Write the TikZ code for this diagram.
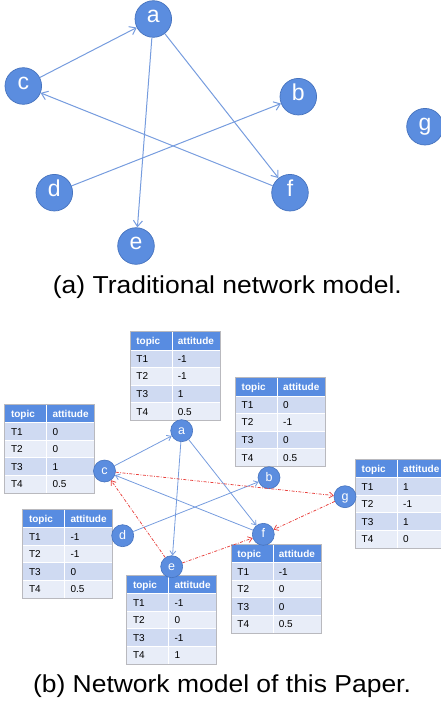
\documentclass[tikz,border=0pt]{standalone}
\usepackage{fontspec}
\setmainfont{Liberation Sans}
\usetikzlibrary{arrows.meta}
\definecolor{nodeblue}{RGB}{91,141,223}
\definecolor{nodeedge}{RGB}{70,115,190}
\definecolor{linkblue}{RGB}{118,156,222}
\definecolor{linkred}{RGB}{232,64,60}
\definecolor{hdrblue}{RGB}{88,140,225}
\definecolor{rowA}{RGB}{207,218,242}
\definecolor{rowB}{RGB}{232,237,248}
\definecolor{tabedge}{RGB}{185,185,190}
\tikzset{
 bignode/.style={circle, fill=nodeblue, draw=nodeedge, line width=0.7pt, minimum size=36.6pt, inner sep=0pt, text=white, text height=0.66em, text depth=0pt, font=\fontsize{23}{23}\selectfont},
 smallnode/.style={circle, fill=nodeblue, draw=nodeedge, line width=0.6pt, minimum size=22pt, inner sep=0pt, text=white, text height=0.66em, text depth=0pt, font=\fontsize{12.5}{12.5}\selectfont},
 biglink/.style={draw=linkblue, line width=1pt, -{Straight Barb[length=6pt,width=9pt]}},
 smalllink/.style={draw=linkblue, line width=0.8pt, -{Straight Barb[length=4pt,width=6pt]}},
 redlink/.style={draw=linkred, line width=0.75pt, dash pattern=on 3pt off 1.5pt on 0.8pt off 1.5pt, -{Straight Barb[length=4pt,width=6pt]}},
 hdrtxt/.style={anchor=base west, inner sep=0pt, text=white, font=\fontsize{10}{10}\selectfont\bfseries},
 celltxt/.style={anchor=base west, inner sep=0pt, font=\fontsize{10}{10}\selectfont},
 captxt/.style={anchor=base, inner sep=0pt, font=\fontsize{24.5}{24.5}\selectfont},
 gridline/.style={white, line width=0.8pt},
}
\newcommand\topictab[7]{%
\begin{scope}[shift={(#2,#3)}]
 \fill[tabedge] (-1,-1) rectangle (90,89);
 \fill[hdrblue] (0,0) rectangle (89,17.6);
 \fill[rowA] (0,17.6) rectangle (89,35.2);
 \fill[rowB] (0,35.2) rectangle (89,52.8);
 \fill[rowA] (0,52.8) rectangle (89,70.4);
 \fill[rowB] (0,70.4) rectangle (89,88);
 \draw[gridline] (41.5,0) -- (41.5,88);
 \foreach \yy in {17.6,35.2,52.8,70.4} \draw[gridline] (0,\yy) -- (89,\yy);
 \node[hdrtxt] (#1-h1) at (5.5,12.4) {topic};
 \node[hdrtxt] (#1-h2) at (47,12.4) {attitude};
 \node[celltxt] (#1-k1) at (5.5,30) {T1};
 \node[celltxt] (#1-v1) at (47,30) {#4};
 \node[celltxt] (#1-k2) at (5.5,47.6) {T2};
 \node[celltxt] (#1-v2) at (47,47.6) {#5};
 \node[celltxt] (#1-k3) at (5.5,65.2) {T3};
 \node[celltxt] (#1-v3) at (47,65.2) {#6};
 \node[celltxt] (#1-k4) at (5.5,82.8) {T4};
 \node[celltxt] (#1-v4) at (47,82.8) {#7};
\end{scope}}
\begin{document}
\begin{tikzpicture}[x=1pt,y=-1pt]
\useasboundingbox (0,0) rectangle (441,707);
\clip (0,0) rectangle (441,707);
% ---------- (a) ----------
\node[bignode] (a) at (153.3,19) {a};
\node[bignode] (c) at (23.3,86) {c};
\node[bignode] (b) at (298.3,96.7) {b};
\node[bignode] (g) at (425,126.7) {g};
\node[bignode] (d) at (54.3,192.7) {d};
\node[bignode] (f) at (290,192.7) {f};
\node[bignode] (e) at (136,246) {e};
\draw[biglink] (c) -- (a);
\draw[biglink] (a) -- (e);
\draw[biglink] (a) -- (f);
\draw[biglink] (f) -- (c);
\draw[biglink] (d) -- (b);
\node[captxt] (capA) at (227.4,293) {\scalebox{1.08}[1]{(a) Traditional network model.}};
% ---------- (b) ----------
\topictab{ta}{130.7}{332.3}{-1}{-1}{1}{0.5}
\topictab{tc}{5.3}{405}{0}{0}{1}{0.5}
\topictab{tb}{236}{378.3}{0}{-1}{0}{0.5}
\topictab{tg}{356}{460}{1}{-1}{1}{0}
\topictab{td}{23.3}{510}{-1}{-1}{0}{0.5}
\topictab{te}{127.3}{576}{-1}{0}{-1}{1}
\topictab{tf}{231.7}{545}{-1}{0}{0}{0.5}
\node[smallnode] (a2) at (181.7,430.7) {a};
\node[smallnode] (c2) at (104.5,471) {c};
\node[smallnode] (b2) at (269,477.7) {b};
\node[smallnode] (g2) at (345,496.7) {g};
\node[smallnode] (d2) at (122.7,535.7) {d};
\node[smallnode] (f2) at (263.3,534.3) {f};
\node[smallnode] (e2) at (171.7,566.7) {e};
\draw[smalllink] (c2) -- (a2);
\draw[smalllink] (a2) -- (e2);
\draw[smalllink] (a2) -- (f2);
\draw[smalllink] (f2) -- (c2);
\draw[smalllink] (d2) -- (b2);
\draw[redlink] (c2) -- (g2);
\draw[redlink] (e2) -- (c2);
\draw[redlink] (e2) -- (f2);
\draw[redlink] (g2) -- (f2);
\node[captxt] (capB) at (222,692.8) {\scalebox{1.08}[1]{(b) Network model of this Paper.}};
\end{tikzpicture}
\end{document}
